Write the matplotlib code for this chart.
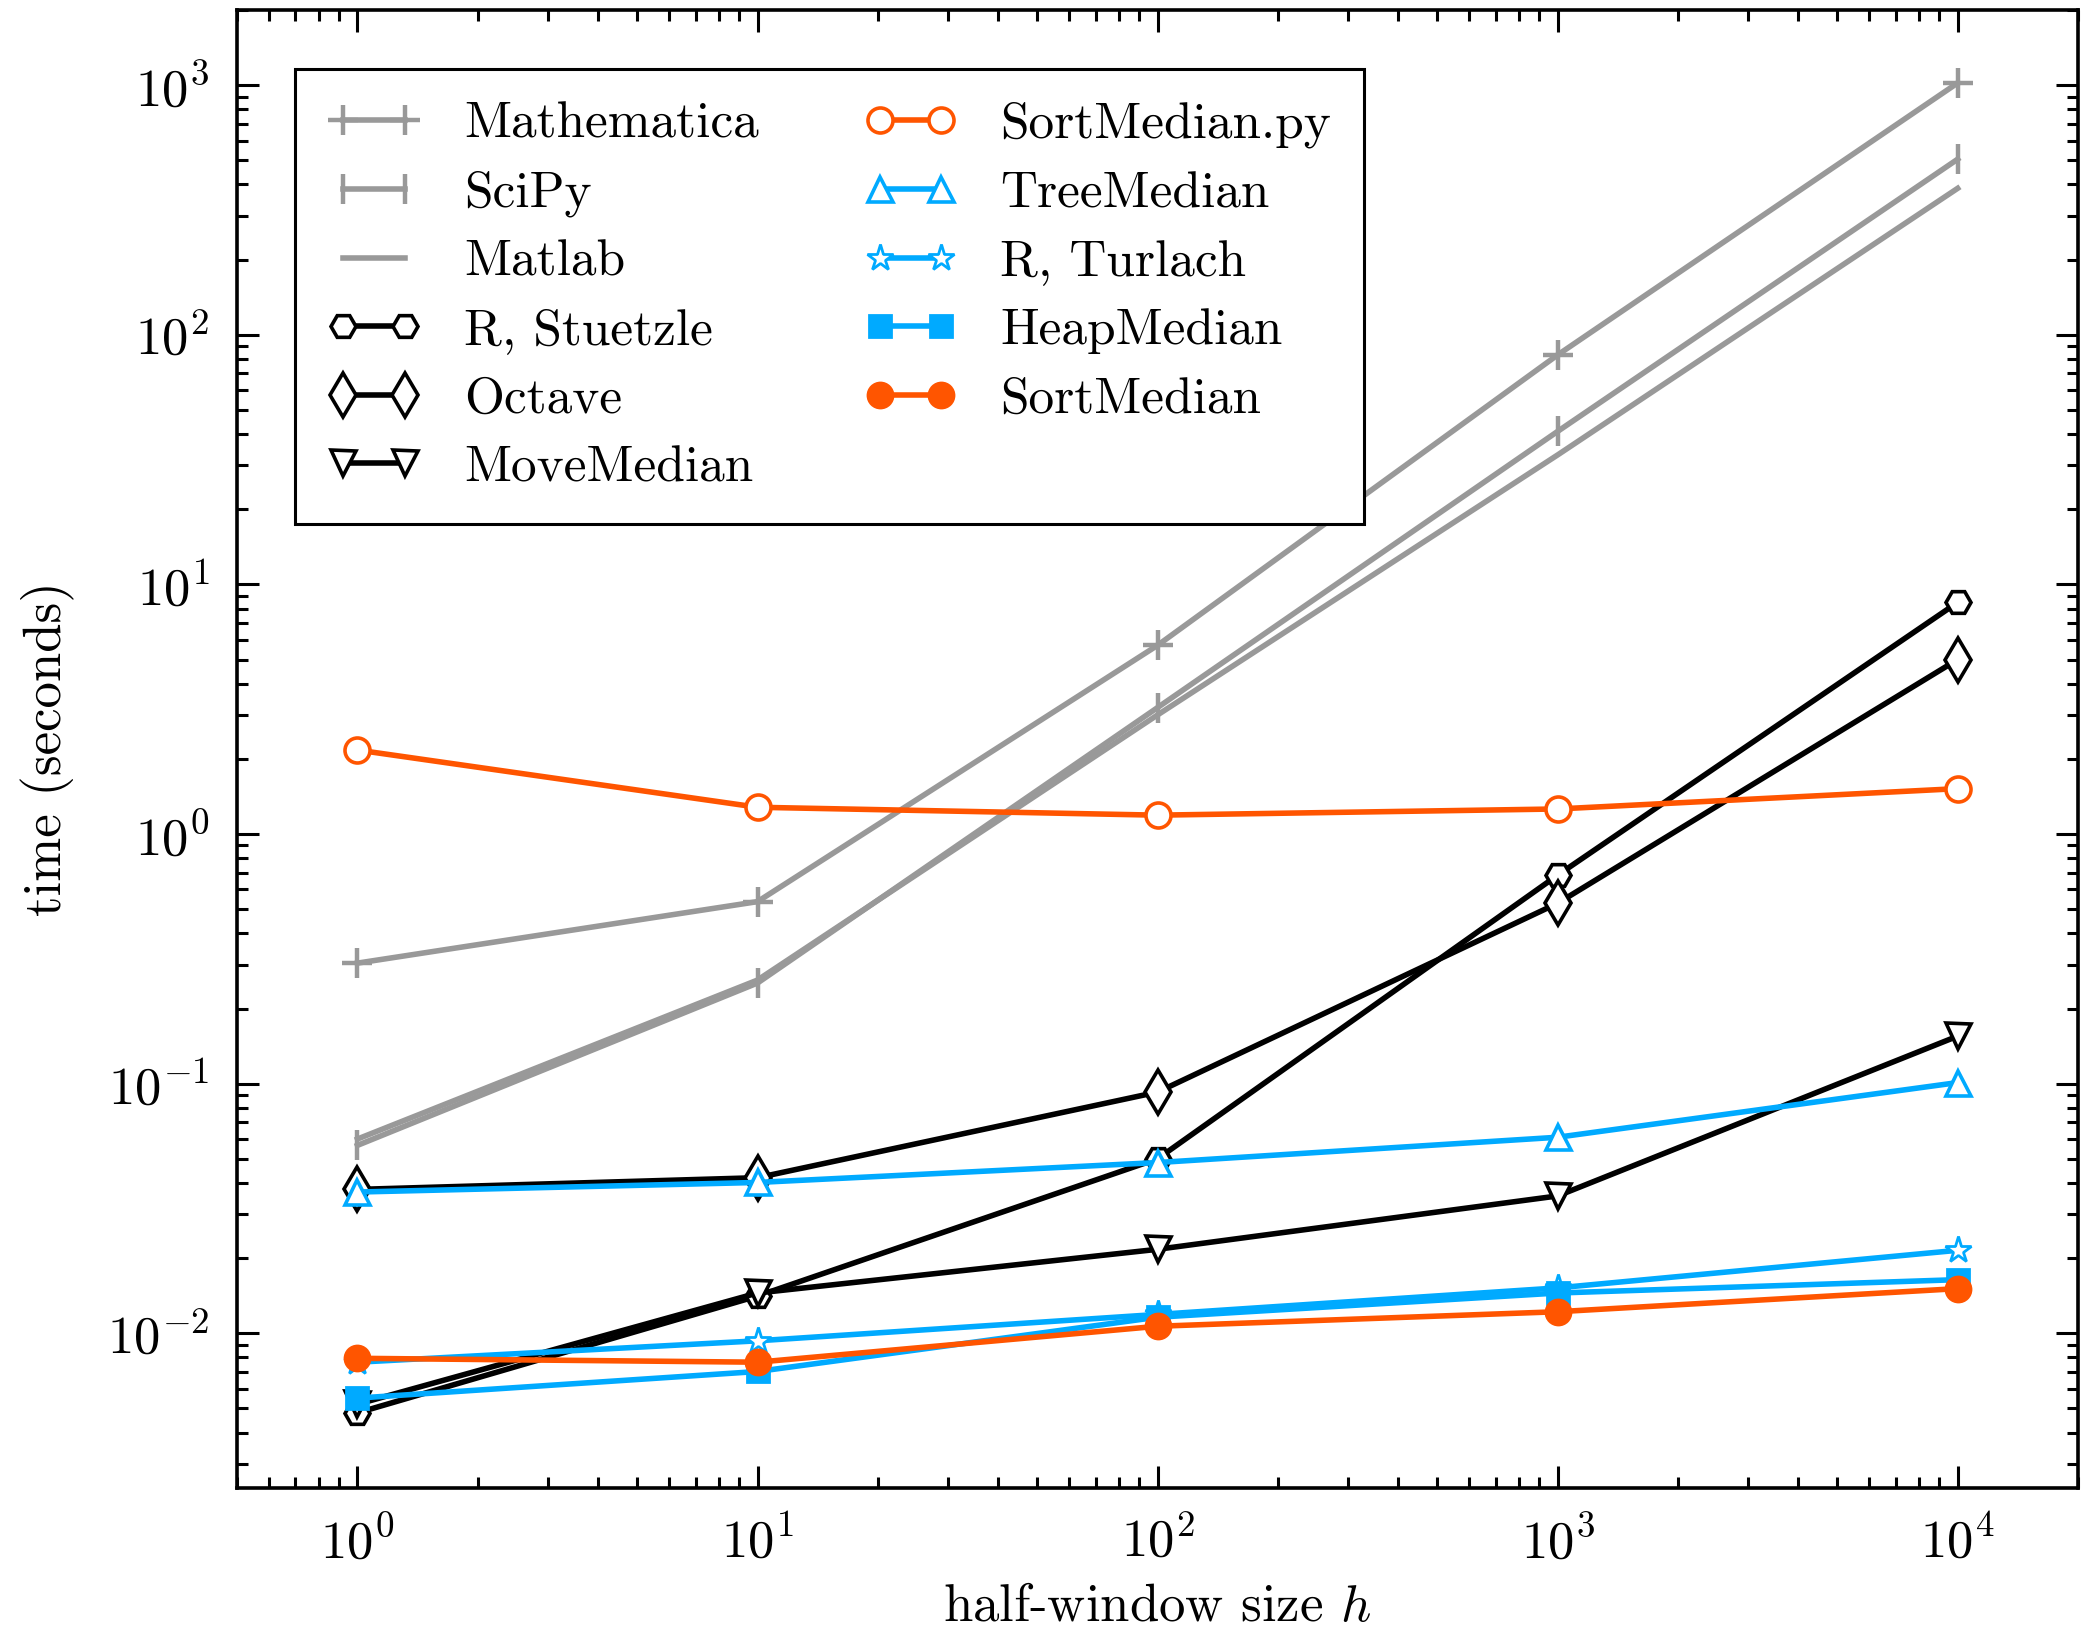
import matplotlib
matplotlib.use("Agg")
import matplotlib.pyplot as plt
from matplotlib.ticker import LogLocator, LogFormatterSciNotation, NullFormatter

plt.rcParams.update({
    "font.family": "serif",
    "font.serif": ["cmr10"],
    "mathtext.fontset": "cm",
    "axes.formatter.use_mathtext": True,
    "axes.unicode_minus": False,
    "font.size": 18,
})

h = [1, 10, 100, 1000, 10000]

mathematica = [0.304, 0.536, 5.7, 83, 1020]
scipy = [0.0566, 0.253, 3.21, 41, 505]
matlab = [0.060, 0.26, 3.0, 33, 386]
r_stuetzle = [0.0048, 0.0141, 0.050, 0.684, 8.47]
octave = [0.0377, 0.042, 0.0925, 0.528, 5.0]
move_median = [0.0052, 0.0145, 0.0217, 0.0355, 0.155]
sort_median_py = [2.17, 1.28, 1.19, 1.26, 1.52]
tree_median = [0.0368, 0.0402, 0.0483, 0.061, 0.101]
r_turlach = [0.00766, 0.00933, 0.0119, 0.0152, 0.0215]
heap_median = [0.0055, 0.00703, 0.0116, 0.0145, 0.0164]
sort_median = [0.00794, 0.00766, 0.01067, 0.0122, 0.0151]

GRAY = "#999999"
BLUE = "#00AAFF"
ORANGE = "#FF5500"
BLACK = "black"

series = [
    ("Mathematica", mathematica, GRAY, "+", "none", 1.6),
    ("SciPy", scipy, GRAY, "|", "none", 1.6),
    ("Matlab", matlab, GRAY, "None", "none", 1.6),
    ("R, Stuetzle", r_stuetzle, BLACK, "H", "white", 1.3),
    ("Octave", octave, BLACK, "d", "white", 1.3),
    ("MoveMedian", move_median, BLACK, "v", "white", 1.3),
    ("SortMedian.py", sort_median_py, ORANGE, "o", "white", 1.3),
    ("TreeMedian", tree_median, BLUE, "^", "white", 1.3),
    ("R, Turlach", r_turlach, BLUE, "*", "white", 1.0),
    ("HeapMedian", heap_median, BLUE, "s", BLUE, 1.0),
    ("SortMedian", sort_median, ORANGE, "o", ORANGE, 1.0),
]

fig = plt.figure(figsize=(10.405, 8.175), dpi=200)
ax = fig.add_axes([0.1139, 0.0899, 0.8847, 0.904])

for label, vals, color, marker, mfc, mew in series:
    ms = 9
    if marker == "*":
        ms = 10
    elif marker in ("+", "|"):
        ms = 11
    elif marker == "d":
        ms = 11
    elif marker == "s":
        ms = 8
    ax.plot(h, vals, color=color, lw=2.0, marker=marker, ms=ms,
            mfc=mfc, mec=color, mew=mew, label=label)

ax.set_xscale("log")
ax.set_yscale("log")
ax.set_xlim(0.5, 20000)
ax.set_ylim(0.0024, 2000)

for axis in (ax.xaxis, ax.yaxis):
    axis.set_major_locator(LogLocator(base=10, numticks=20))
    axis.set_minor_locator(LogLocator(base=10, subs=range(2, 10), numticks=20))
    axis.set_minor_formatter(NullFormatter())
    axis.set_major_formatter(LogFormatterSciNotation())

ax.tick_params(which="both", direction="in", top=True, right=True, width=1.1)
ax.tick_params(which="major", length=8, labelsize=19, pad=10)
ax.tick_params(which="minor", length=4)
for sp in ax.spines.values():
    sp.set_linewidth(1.3)

ax.set_xlabel("half-window size $h$", fontsize=19, labelpad=6)
ax.set_ylabel("time (seconds)", fontsize=19, labelpad=11.5)

leg = ax.legend(ncol=2, loc="upper left", bbox_to_anchor=(0.0315, 0.960),
                borderaxespad=0, fancybox=False, framealpha=1, edgecolor="black",
                numpoints=2, handlelength=1.8, handletextpad=0.85,
                columnspacing=2.05, labelspacing=0.44, borderpad=0.64, fontsize=18.5)
leg.get_frame().set_linewidth(1.1)

fig.savefig("out.png", dpi=200)
